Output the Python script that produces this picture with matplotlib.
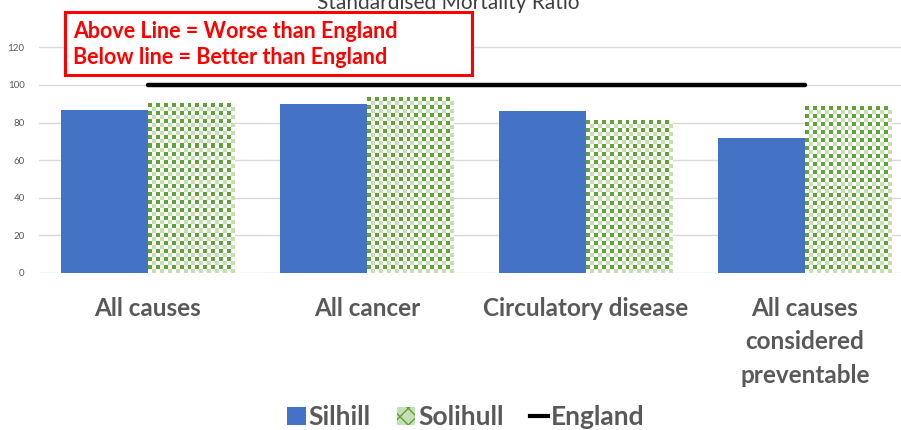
import numpy as np
import matplotlib

matplotlib.use("Agg")
import matplotlib.pyplot as plt
from matplotlib.patches import Patch, Rectangle
from matplotlib.lines import Line2D

plt.rcParams["font.family"] = ["Lato", "DejaVu Sans"]

categories = ["All causes", "All cancer", "Circulatory disease",
              "All causes\nconsidered\npreventable"]
silhill = [86.7, 90.0, 86.2, 71.8]
solihull = [89.9, 93.6, 80.9, 88.8]
england = [100, 100, 100, 100]

BLUE = "#4472C4"
DARK_G = "#5FA236"
LIGHT_G = "#C5DFB2"
GREY = "#595959"

W, H = 901, 430
fig = plt.figure(figsize=(W / 100, H / 100), dpi=100)
# plot area in pixel terms (right edge runs past the image, as in the source)
left, right, bottom, top = 38.5, 914.5, 273, 9.8
ax = fig.add_axes([left / W, 1 - bottom / H, (right - left) / W, (bottom - top) / H])
ax.set_xlim(-0.5, 3.5)
ax.set_ylim(0, 140)

x = np.arange(len(categories))
bw = 0.397

ax.bar(x - bw, silhill, bw, align="edge", color=BLUE, zorder=3)
sol = ax.bar(x, solihull, bw, align="edge", color="none", zorder=3)


def checker(nx, ny):
    img = np.ones((ny, nx, 3))
    dark = matplotlib.colors.to_rgb(DARK_G)
    light = matplotlib.colors.to_rgb(LIGHT_G)
    for i in range(ny):
        for j in range(nx):
            if (i + j) % 2 == 0:
                img[i, j] = dark if i % 2 == 0 else light
    return img


px_per_x = (right - left) / 4
px_per_y = (bottom - top) / 140
for rect in sol:
    x0, w, h = rect.get_x(), rect.get_width(), rect.get_height()
    nx = max(1, int(round(w * px_per_x / 4)))
    ny = max(1, int(round(h * px_per_y / 4)))
    ax.imshow(checker(nx, ny), extent=(x0, x0 + w, 0, h), aspect="auto",
              interpolation="nearest", zorder=3)

ax.plot(x, england, color="black", lw=3.2, solid_capstyle="round", zorder=4)

ax.set_yticks(np.arange(0, 121, 20))
ax.yaxis.grid(True, color="#D9D9D9", lw=1, zorder=0)
ax.tick_params(axis="y", length=0, pad=10, labelsize=7, labelcolor=GREY)
ax.set_xticks(x)
ax.set_xticklabels(categories, fontsize=17.5, fontweight="bold", color=GREY,
                   linespacing=1.55)
ax.tick_params(axis="x", length=0, pad=17)
for s in ax.spines.values():
    s.set_visible(False)

fig.text(448 / W, 1 - 9 / H, "Standardised Mortality Ratio", ha="center",
         va="baseline", fontsize=15, color="#404040")

# red annotation box
fig.patches.append(Rectangle((65 / W, 1 - 75 / H), (472 - 65) / W, 63 / H,
                             transform=fig.transFigure, fc="white", ec="#FF0000",
                             lw=2.2, zorder=5))
fig.text(73 / W, 1 - 31 / H, "Above Line = Worse than England", ha="left",
         va="center", fontsize=15.5, fontweight="bold", color="#FF0000", zorder=6)
fig.text(73 / W, 1 - 58 / H, "Below line = Better than England", ha="left",
         va="center", fontsize=15.5, fontweight="bold", color="#FF0000", zorder=6)

handles = [Patch(facecolor=BLUE),
           Patch(facecolor=LIGHT_G, edgecolor=DARK_G, hatch="xx", lw=0),
           Line2D([0], [0], color="black", lw=3)]
leg = fig.legend(handles, ["Silhill", "Solihull", "England"], loc="center",
                 bbox_to_anchor=(466 / W, 1 - 417 / H), ncol=3, frameon=False,
                 prop={"weight": "bold", "size": 19}, handlelength=0.7,
                 handletextpad=0.1, columnspacing=1.0)
for t in leg.get_texts():
    t.set_color(GREY)

fig.savefig("out.png", dpi=100)
